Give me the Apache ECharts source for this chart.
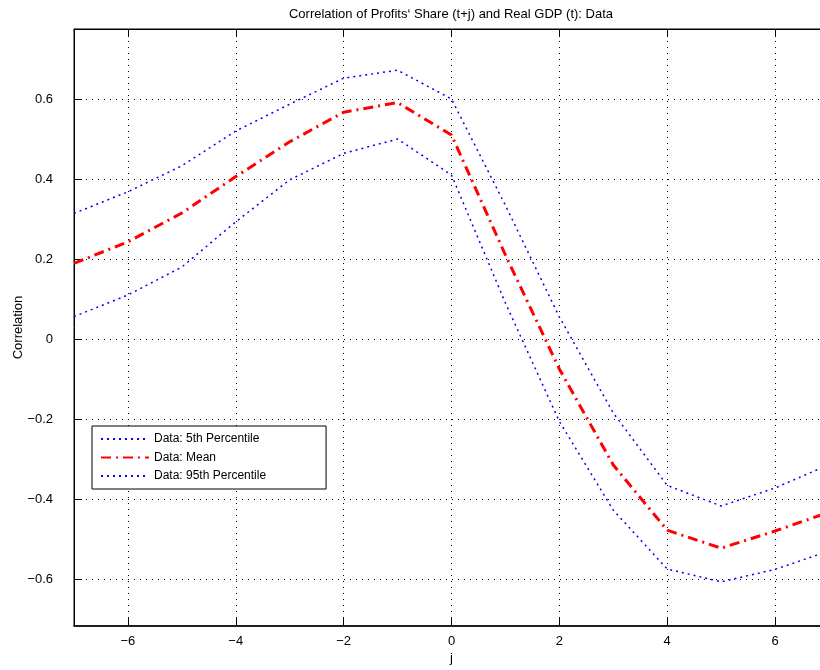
<!DOCTYPE html>
<html>
<head>
<meta charset="utf-8">
<script src="https://cdn.jsdelivr.net/npm/echarts@6/dist/echarts.min.js"></script>
<style>
  html, body { margin: 0; padding: 0; background: #fff; }
  #chart { width: 820px; height: 670px; }
</style>
</head>
<body>
<div id="chart"></div>
<script>
// Lead/lag j and the correlation estimates at each lag
const lags = [-7, -6, -5, -4, -3, -2, -1, 0, 1, 2, 3, 4, 5, 6, 7];
const pct5 = [0.056, 0.110, 0.180, 0.293, 0.398, 0.464, 0.500, 0.410, 0.090, -0.206, -0.428, -0.575, -0.607, -0.576, -0.530];
const meanCorr = [0.189, 0.243, 0.315, 0.406, 0.493, 0.567, 0.591, 0.510, 0.210, -0.075, -0.315, -0.478, -0.523, -0.480, -0.433];
const pct95 = [0.314, 0.368, 0.433, 0.520, 0.587, 0.652, 0.672, 0.600, 0.334, 0.055, -0.185, -0.366, -0.4175, -0.3725, -0.314];

// Axis ticks
const xTicks = [-6, -4, -2, 0, 2, 4, 6];
const yTicks = [-0.6, -0.4, -0.2, 0, 0.2, 0.4, 0.6];

const FONT = '"Liberation Sans", Arial, Helvetica, sans-serif';
const toPairs = vals => lags.map((j, i) => [j, vals[i]]);
const fmt = v => {
  const s = (Math.abs(v) < 1e-9) ? '0' : String(Math.round(v * 10) / 10);
  return s.replace('-', '\u2212');
};

const gridDots = { show: true, lineStyle: { color: '#000', width: 1, type: [1, 5] } };

const chart = echarts.init(document.getElementById('chart'), null, { renderer: 'canvas' });
chart.setOption({
  animation: false,
  backgroundColor: '#fff',
  title: {
    text: 'Correlation of Profits\u2018 Share (t+j) and Real GDP (t): Data',
    left: 446, top: 3, textAlign: 'center',
    textStyle: { fontFamily: FONT, fontSize: 13, fontWeight: 'normal', color: '#000' }
  },
  grid: {
    left: 74, top: 29, right: -9, bottom: 44,
    containLabel: false, outerBoundsMode: 'none',
    show: true, borderColor: '#000', borderWidth: 1, backgroundColor: 'transparent'
  },
  legend: {
    orient: 'vertical',
    left: 92, top: 426,
    padding: [7, 60, 7, 8],
    itemWidth: 48, itemHeight: 14, itemGap: 6.5,
    backgroundColor: '#fff',
    borderColor: '#000', borderWidth: 1, borderRadius: 0,
    itemStyle: { opacity: 0 },
    textStyle: { fontFamily: FONT, fontSize: 12, color: '#000' },
    data: ['Data: 5th Percentile', 'Data: Mean', 'Data: 95th Percentile']
  },
  xAxis: [{
    type: 'value', min: -7, max: 7,
    name: 'j', nameLocation: 'middle', nameGap: 26, nameMoveOverlap: false,
    nameTextStyle: { fontFamily: FONT, fontSize: 13, color: '#000' },
    axisLine: { show: true, onZero: false, lineStyle: { color: '#000', width: 1.5 } },
    axisTick: { show: true, inside: true, length: 8, customValues: xTicks, lineStyle: { color: '#000' } },
    axisLabel: { customValues: xTicks, formatter: fmt, margin: 9, fontFamily: FONT, fontSize: 13, color: '#000' },
    splitLine: gridDots
  }, {
    type: 'value', min: -7, max: 7, position: 'top',
    axisLine: { show: true, onZero: false, lineStyle: { color: '#000', width: 1 } },
    axisTick: { show: true, inside: true, length: 8, customValues: xTicks, lineStyle: { color: '#000' } },
    axisLabel: { show: false },
    splitLine: { show: false }
  }],
  yAxis: {
    type: 'value', min: -0.7175, max: 0.775,
    name: 'Correlation', nameLocation: 'middle', nameGap: 49, nameRotate: 90, nameMoveOverlap: false,
    nameTextStyle: { fontFamily: FONT, fontSize: 13, color: '#000' },
    axisLine: { show: true, onZero: false, lineStyle: { color: '#000', width: 1 } },
    axisTick: { show: true, inside: true, length: 8, customValues: yTicks, lineStyle: { color: '#000' } },
    axisLabel: { customValues: yTicks, formatter: fmt, margin: 21, fontFamily: FONT, fontSize: 13, color: '#000' },
    splitLine: gridDots
  },
  series: [{
    name: 'Data: 5th Percentile', type: 'line', data: toPairs(pct5),
    symbol: 'none', z: 3,
    lineStyle: { color: '#0000ff', width: 1.5, type: [2, 4] },
    itemStyle: { color: '#0000ff' }
  }, {
    name: 'Data: Mean', type: 'line', data: toPairs(meanCorr),
    symbol: 'none', z: 4,
    lineStyle: { color: '#ff0000', width: 3, type: [10, 5, 2, 5] },
    itemStyle: { color: '#ff0000' }
  }, {
    name: 'Data: 95th Percentile', type: 'line', data: toPairs(pct95),
    symbol: 'none', z: 3,
    lineStyle: { color: '#0000ff', width: 1.5, type: [2, 4] },
    itemStyle: { color: '#0000ff' }
  }]
});
</script>
</body>
</html>
